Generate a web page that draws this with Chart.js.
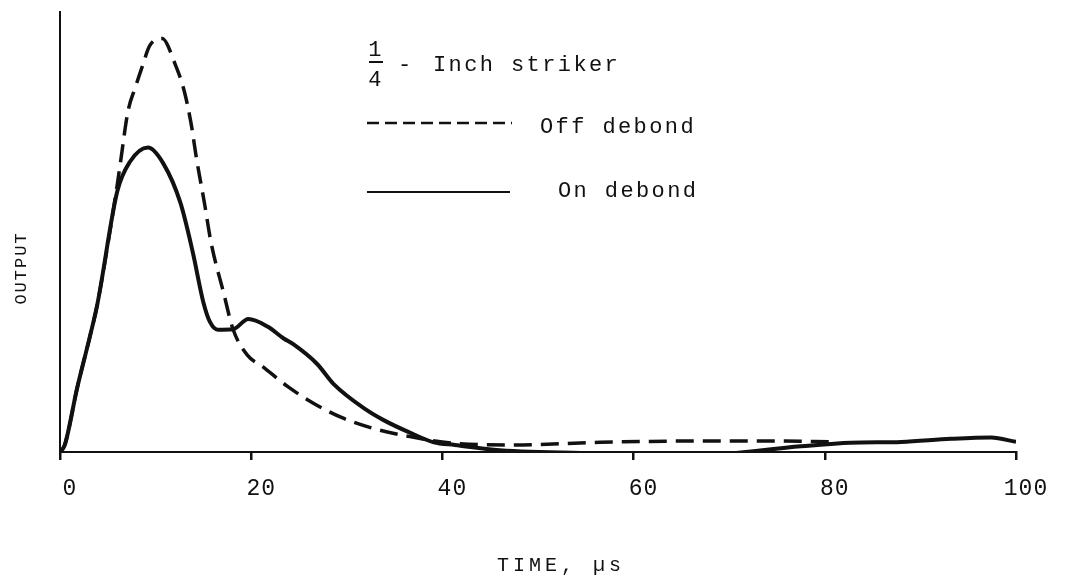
<!DOCTYPE html>
<html>
<head>
<meta charset="utf-8">
<script src="https://cdn.jsdelivr.net/npm/chart.js@4.4.1/dist/chart.umd.min.js"></script>
<style>
  html, body { margin: 0; padding: 0; background: #fff; }
  #wrap { width: 1070px; height: 582px; }
</style>
</head>
<body>
<div id="wrap"><canvas id="outputChart"></canvas></div>
<script>
// --- values (time in µs, output in arbitrary units) ---
const onTime = [0, 0.5, 1.8, 3.1, 3.9, 6.0, 7.3, 9.2, 10.8, 12.6, 13.9, 15.0, 15.7, 16.5, 18.1, 19.7,
  21.7, 23.4, 24.4, 26.9, 28.6, 32.1, 33.8, 36.6, 39.1, 41.3, 46, 56.5, 67, 77.5, 82.7, 88, 93.2, 97.4, 100];
const onOutput = [0, 1.6, 14.6, 26, 33.5, 59.3, 65.9, 69.2, 65.6, 56.6, 45.3, 34, 29.5, 27.8, 27.9, 30.2,
  28.5, 25.8, 24.5, 20, 15.5, 9.5, 7.3, 4.4, 2.2, 1.6, 0.4, -0.3, -0.7, 1.3, 2.1, 2.3, 3, 3.3, 2.3];

const offTime = [0, 0.5, 1.8, 3.1, 3.9, 6.0, 6.3, 7.1, 7.9, 8.6, 9.4, 10.7, 12.0, 13.0, 13.7, 14.3, 15.1,
  15.8, 17.1, 18.1, 19.6, 21.2, 23.8, 26.5, 29.5, 32.7, 36.6, 41.6, 47.4, 56.5, 67, 74.3, 81];
const offOutput = [0, 1.6, 14.6, 26, 33.5, 60.9, 65.4, 77.3, 83, 87.6, 92.4, 94, 88.4, 82, 74.8, 66.4, 56.7,
  47.6, 36.3, 27.9, 22, 19.4, 14.9, 11.1, 7.8, 5.4, 3.5, 1.9, 1.6, 2.2, 2.5, 2.5, 2.3];

const timeTicks = [0, 20, 40, 60, 80, 100];
const seriesNames = ['Off debond', 'On debond'];

const INK = '#111';
const TYPE = '"Liberation Mono", "DejaVu Sans Mono", monospace';

function toPoints(xs, ys) {
  return xs.map((x, i) => ({ x: x, y: ys[i] }));
}

// typewritten labels, axis numbers and the hand-drawn key
const typedText = {
  id: 'typedText',
  afterDraw(chart) {
    const ctx = chart.ctx;
    const xs = chart.scales.x;
    const area = chart.chartArea;
    ctx.save();
    ctx.fillStyle = INK;
    ctx.textBaseline = 'alphabetic';

    // tick numbers
    ctx.font = '23px ' + TYPE;
    ctx.letterSpacing = '1px';
    ctx.textAlign = 'center';
    timeTicks.forEach(t => {
      ctx.fillText(String(t), xs.getPixelForValue(t) + 10, area.bottom + 43);
    });

    // axis titles
    ctx.font = '20px ' + TYPE;
    ctx.textAlign = 'left';
    ctx.letterSpacing = '4px';
    ctx.fillText('TIME, µs', 497, 571);

    ctx.save();
    ctx.font = '17px ' + TYPE;
    ctx.letterSpacing = '2px';
    ctx.translate(26, 268);
    ctx.rotate(-Math.PI / 2);
    ctx.textAlign = 'center';
    ctx.fillText('OUTPUT', 0, 0);
    ctx.restore();

    // key
    ctx.font = '22px ' + TYPE;
    ctx.letterSpacing = '2.4px';
    ctx.textAlign = 'center';
    ctx.fillText('1', 376, 56);
    ctx.fillText('4', 376, 86);
    ctx.fillRect(369, 61, 14, 2);
    ctx.textAlign = 'left';
    ctx.fillText('-', 398, 71);
    ctx.fillText('Inch striker', 433, 71);
    ctx.fillText(seriesNames[0], 540, 133);
    ctx.fillText(seriesNames[1], 558, 197);

    ctx.strokeStyle = INK;
    ctx.lineWidth = 2.5;
    ctx.setLineDash([12, 6]);
    ctx.beginPath();
    ctx.moveTo(367, 123);
    ctx.lineTo(512, 123);
    ctx.stroke();
    ctx.setLineDash([]);
    ctx.lineWidth = 2;
    ctx.beginPath();
    ctx.moveTo(367, 192);
    ctx.lineTo(510, 192);
    ctx.stroke();
    ctx.restore();
  }
};

new Chart(document.getElementById('outputChart'), {
  type: 'line',
  data: {
    datasets: [
      {
        label: seriesNames[0],
        data: toPoints(offTime, offOutput),
        borderColor: INK,
        borderWidth: 3.5,
        borderDash: [18, 9],
        pointRadius: 0,
        cubicInterpolationMode: 'monotone',
        fill: false
      },
      {
        label: seriesNames[1],
        data: toPoints(onTime, onOutput),
        borderColor: INK,
        borderWidth: 4,
        pointRadius: 0,
        cubicInterpolationMode: 'monotone',
        fill: false
      }
    ]
  },
  options: {
    responsive: true,
    maintainAspectRatio: false,
    animation: false,
    devicePixelRatio: 1,
    layout: { padding: { left: 60, right: 54, top: 12, bottom: 122 } },
    plugins: {
      legend: { display: false },
      tooltip: { enabled: false },
      title: { display: false }
    },
    scales: {
      x: {
        type: 'linear',
        min: 0,
        max: 100,
        ticks: { display: false, stepSize: 20 },
        grid: { drawOnChartArea: false, drawTicks: true, tickLength: 8, color: INK, lineWidth: 2.5 },
        border: { display: true, color: INK, width: 2 }
      },
      y: {
        min: 0,
        max: 100,
        ticks: { display: false },
        grid: { display: false, drawTicks: false },
        border: { display: true, color: INK, width: 2 }
      }
    }
  },
  plugins: [typedText]
});
</script>
</body>
</html>
